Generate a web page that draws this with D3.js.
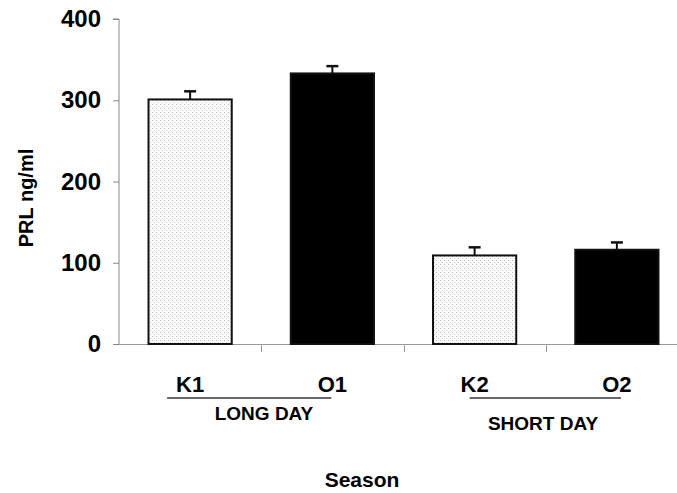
<!DOCTYPE html>
<html>
<head>
<meta charset="utf-8">
<script src="https://cdn.jsdelivr.net/npm/d3@7"></script>
<style>
  body { margin: 0; background: #fff; }
  svg { display: block; font-family: Arial, "Liberation Sans", sans-serif; font-weight: bold; }
</style>
</head>
<body>
<svg id="chart"></svg>
<script>
const totalWidth = 677;
const totalHeight = 493;

// data
const categories = ["K1", "O1", "K2", "O2"];
const values = [301, 333, 109, 116];
const errors = [10, 9, 10, 9];
const fills = ["dots", "black", "dots", "black"];
const yTicks = [0, 100, 200, 300, 400];
const groups = ["LONG DAY", "SHORT DAY"];

const svg = d3.select('#chart')
    .attr('width', totalWidth)
    .attr('height', totalHeight);

// dotted fill pattern
const pattern = svg.append("defs").append("pattern")
    .attr("id", "dots")
    .attr("patternUnits", "userSpaceOnUse")
    .attr("width", 4)
    .attr("height", 4);
pattern.append("rect").attr("width", 4).attr("height", 4).attr("fill", "#fafafa");
pattern.append("rect").attr("x", 0).attr("y", 0).attr("width", 1).attr("height", 1).attr("fill", "#b8b8b8");
pattern.append("rect").attr("x", 2).attr("y", 2).attr("width", 1).attr("height", 1).attr("fill", "#d4d4d4");

const x = d3.scaleBand()
    .domain(categories)
    .range([119, 688])
    .paddingInner(0.415)
    .paddingOuter(0.2075);

const y = d3.scaleLinear()
    .domain([0, 400])
    .range([344, 19]);

// y axis
const yAxis = svg.append("g")
    .attr("transform", "translate(119,0)")
    .call(d3.axisLeft(y).tickValues(yTicks).tickSize(6).tickPadding(12));
yAxis.select(".domain").attr("stroke", "#888").attr("d", "M-6,19H0V344");
yAxis.selectAll(".tick line").attr("stroke", "#888");
yAxis.selectAll(".tick text")
    .attr("fill", "#000")
    .attr("font-size", "24px")
    .attr("font-family", "Arial, 'Liberation Sans', sans-serif")
    .attr("font-weight", "bold");

// x axis line with ticks at band boundaries
svg.append("line")
    .attr("x1", 119).attr("x2", totalWidth)
    .attr("y1", y(0) + 0.5).attr("y2", y(0) + 0.5)
    .attr("stroke", "#999");
const gap = (x.step() - x.bandwidth()) / 2;
svg.selectAll(".xtick")
    .data(categories.slice(1))
    .enter()
    .append("line")
    .attr("x1", d => Math.round(x(d) - gap) + 0.5)
    .attr("x2", d => Math.round(x(d) - gap) + 0.5)
    .attr("y1", y(0))
    .attr("y2", y(0) + 8)
    .attr("stroke", "#999");

// bars
svg.selectAll(".bar")
    .data(categories)
    .enter()
    .append("rect")
    .attr("x", d => x(d))
    .attr("y", (d, i) => y(values[i]))
    .attr("width", x.bandwidth())
    .attr("height", (d, i) => y(0) - y(values[i]))
    .attr("fill", (d, i) => fills[i] === "dots" ? "url(#dots)" : "#000")
    .attr("stroke", "#111")
    .attr("stroke-width", 2);

// error bars
const err = svg.selectAll(".err")
    .data(categories)
    .enter()
    .append("g");
err.append("line")
    .attr("x1", d => x(d) + x.bandwidth() / 2)
    .attr("x2", d => x(d) + x.bandwidth() / 2)
    .attr("y1", (d, i) => y(values[i]))
    .attr("y2", (d, i) => y(values[i] + errors[i]))
    .attr("stroke", "#111")
    .attr("stroke-width", 2);
err.append("line")
    .attr("x1", d => x(d) + x.bandwidth() / 2 - 6)
    .attr("x2", d => x(d) + x.bandwidth() / 2 + 6)
    .attr("y1", (d, i) => y(values[i] + errors[i]))
    .attr("y2", (d, i) => y(values[i] + errors[i]))
    .attr("stroke", "#111")
    .attr("stroke-width", 2.5);

// category labels
svg.selectAll(".cat")
    .data(categories)
    .enter()
    .append("text")
    .attr("x", d => x(d) + x.bandwidth() / 2)
    .attr("y", 392)
    .attr("text-anchor", "middle")
    .attr("font-size", "22px")
    .attr("fill", "#000")
    .text(d => d);

// group lines and labels
const groupLines = [
    { x1: x("K1") + x.bandwidth() / 2 - 23, x2: x("O1") + x.bandwidth() / 2 - 1, label: groups[0], lx: 264, ly: 420 },
    { x1: x("K2") + x.bandwidth() / 2 - 5, x2: x("O2") + x.bandwidth() / 2 + 4, label: groups[1], lx: 543, ly: 430 }
];
svg.selectAll(".gline")
    .data(groupLines)
    .enter()
    .append("line")
    .attr("x1", d => d.x1)
    .attr("x2", d => d.x2)
    .attr("y1", 398)
    .attr("y2", 398)
    .attr("stroke", "#666")
    .attr("stroke-width", 2);
svg.selectAll(".glabel")
    .data(groupLines)
    .enter()
    .append("text")
    .attr("x", d => d.lx)
    .attr("y", d => d.ly)
    .attr("text-anchor", "middle")
    .attr("font-size", "19px")
    .attr("fill", "#000")
    .text(d => d.label);

// axis titles
svg.append("text")
    .attr("x", 362)
    .attr("y", 487)
    .attr("text-anchor", "middle")
    .attr("font-size", "21px")
    .attr("fill", "#000")
    .text("Season");

svg.append("text")
    .attr("transform", "translate(33,198) rotate(-90)")
    .attr("text-anchor", "middle")
    .attr("font-size", "20px")
    .attr("fill", "#000")
    .text("PRL ng/ml");
</script>
</body>
</html>
